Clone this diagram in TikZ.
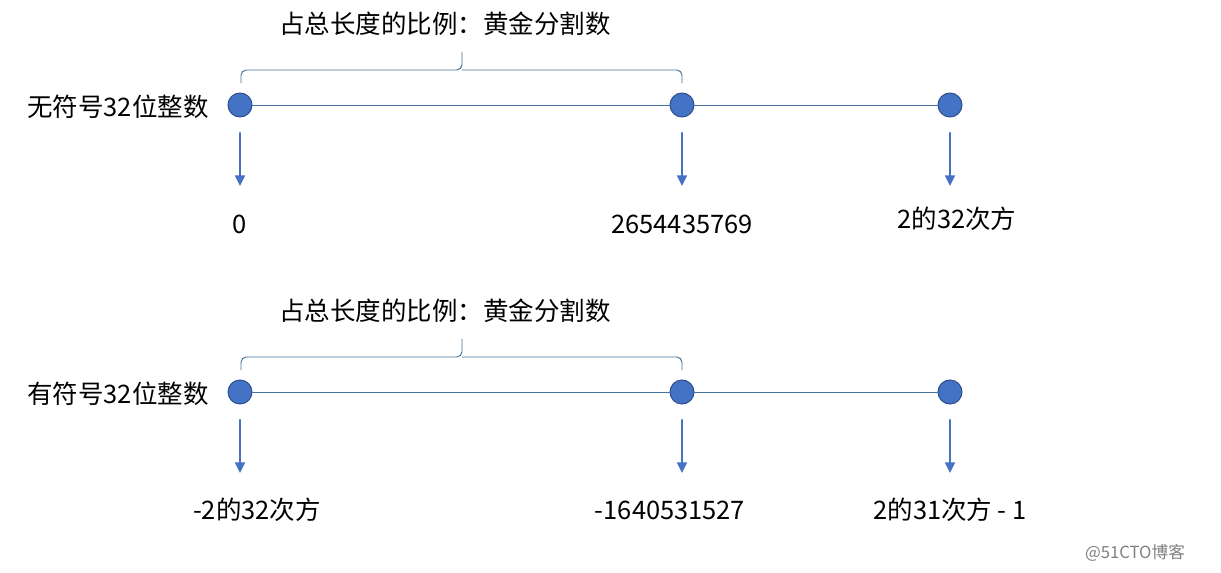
\documentclass[tikz,border=0pt]{standalone}
\usepackage{fontspec}
\setmainfont{Noto Sans CJK SC}
\usetikzlibrary{arrows.meta}
\definecolor{dotblue}{HTML}{4472C4}
\definecolor{dotedge}{HTML}{2F528F}
\definecolor{linecol}{HTML}{41719C}
\tikzset{
  dot/.style={circle, fill=dotblue, draw=dotedge, line width=0.6pt, minimum size=0.48cm, inner sep=0pt},
  axisline/.style={draw=linecol, line width=0.55pt},
  bracket/.style={draw=linecol, line width=0.55pt, rounded corners=3pt},
  pointer/.style={draw=dotblue, line width=1.4pt, -{Triangle[length=6pt,width=5.5pt]}},
  txt/.style={inner sep=0pt, font=\fontsize{14.5}{17}\selectfont}
}
\begin{document}
\begin{tikzpicture}[x=0.02cm, y=-0.02cm, line join=round, line cap=round]
\useasboundingbox (0,0) rectangle (1221,572);
% unsigned
\node[txt] (ratioU) at (445,24) {占总长度的比例：黄金分割数};
\node[txt] (nameU) at (118,107) {无符号32位整数};
\node[dot] (u0) at (240,105) {};
\node[dot] (u1) at (682,105) {};
\node[dot] (u2) at (950,105) {};
\draw[axisline] (u0) -- (u1) -- (u2);
\draw[bracket] (241,83) -- (241,70) -- (462,70) -- (462,52);
\draw[bracket] (462,70) -- (682,70) -- (682,83);
\coordinate (us0) at (240,133); \coordinate (ue0) at (240,186);
\coordinate (us1) at (682,133); \coordinate (ue1) at (682,186);
\coordinate (us2) at (950,133); \coordinate (ue2) at (950,186);
\draw[pointer] (us0) -- (ue0);
\draw[pointer] (us1) -- (ue1);
\draw[pointer] (us2) -- (ue2);
\node[txt] (uv0) at (240,224) {0};
\node[txt] (uv1) at (682,224) {2654435769};
\node[txt] (uv2) at (957,219) {2的32次方};
% signed
\node[txt] (ratioS) at (445,311) {占总长度的比例：黄金分割数};
\node[txt] (nameS) at (118,394) {有符号32位整数};
\node[dot] (s0) at (240,392) {};
\node[dot] (s1) at (682,392) {};
\node[dot] (s2) at (950,392) {};
\draw[axisline] (s0) -- (s1) -- (s2);
\draw[bracket] (241,370) -- (241,357) -- (462,357) -- (462,339);
\draw[bracket] (462,357) -- (682,357) -- (682,370);
\coordinate (ss0) at (240,420); \coordinate (se0) at (240,473);
\coordinate (ss1) at (682,420); \coordinate (se1) at (682,473);
\coordinate (ss2) at (950,420); \coordinate (se2) at (950,473);
\draw[pointer] (ss0) -- (se0);
\draw[pointer] (ss1) -- (se1);
\draw[pointer] (ss2) -- (se2);
\node[txt] (sv0) at (257,510) {-2的32次方};
\node[txt] (sv1) at (670,510) {-1640531527};
\node[txt] (sv2) at (950,510) {2的31次方 - 1};
\node[inner sep=0pt, text=gray, font=\fontsize{9.5}{11}\selectfont] (mark) at (1135,553) {@51CTO博客};
\end{tikzpicture}
\end{document}
